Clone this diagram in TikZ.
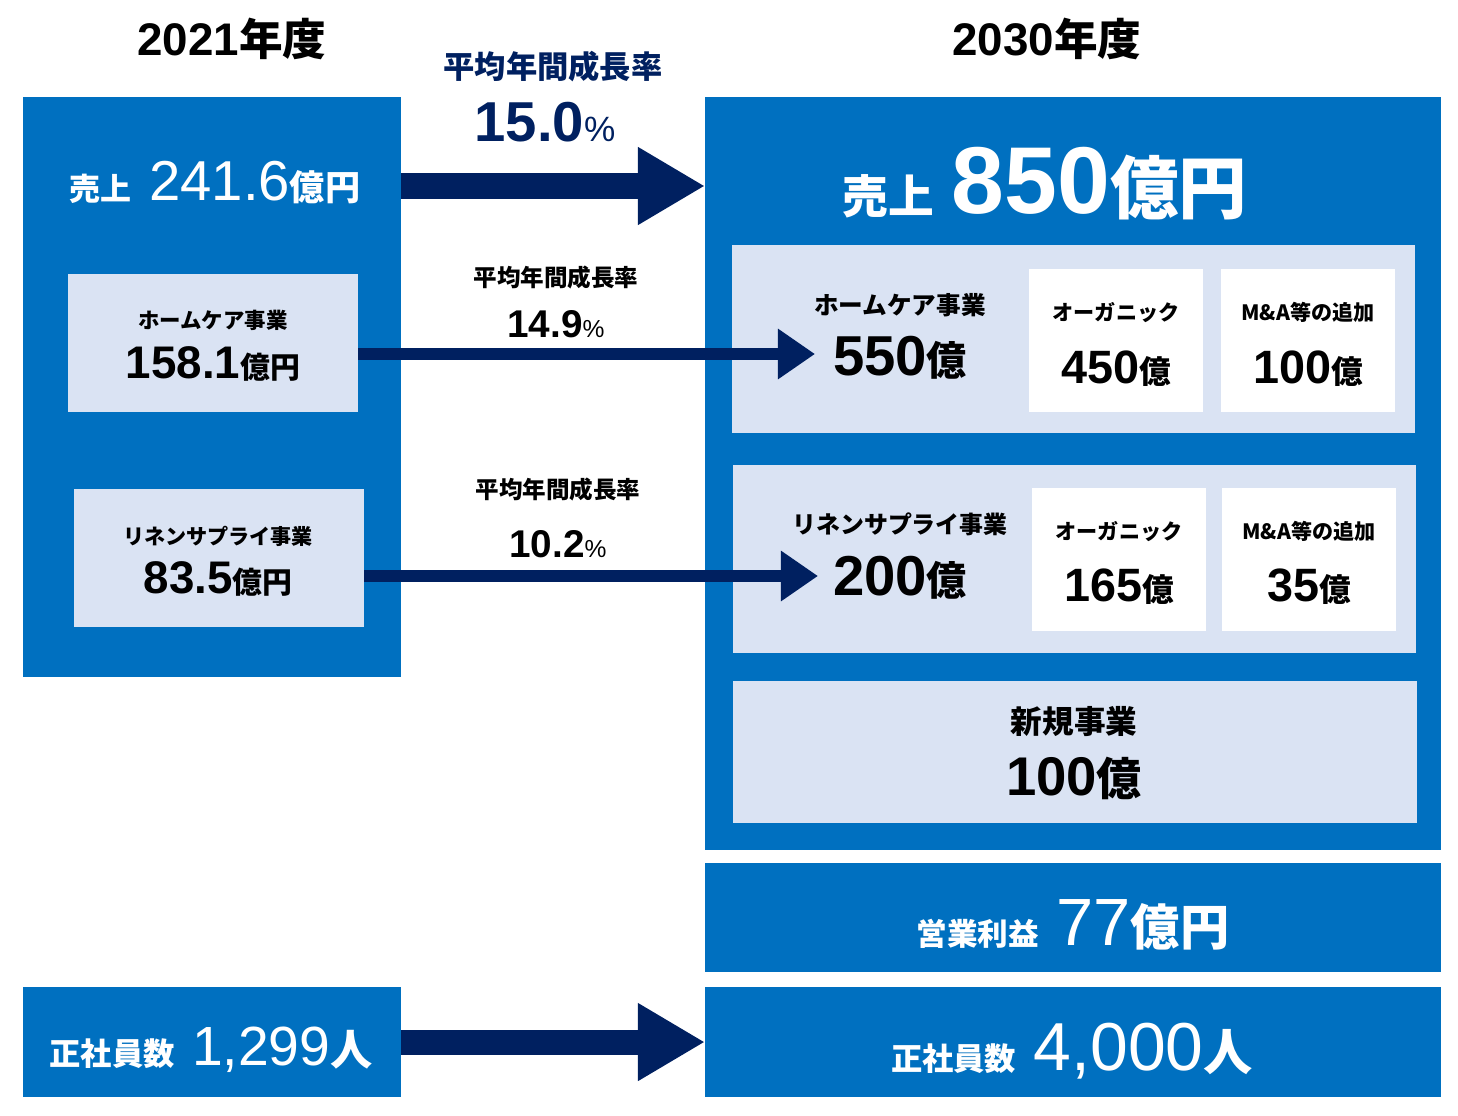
\documentclass[tikz,border=0pt]{standalone}
\usepackage{fontspec}
\setmainfont{Noto Sans CJK JP}
\newfontfamily\numf{Liberation Sans}
\usetikzlibrary{arrows.meta}
\definecolor{mainblue}{HTML}{0070C0}
\definecolor{paleblue}{HTML}{DAE3F3}
\definecolor{navy}{HTML}{002060}
\newcommand{\jtxt}[2]{{\fontsize{#1}{#1}\selectfont\bfseries #2}}
\newcommand{\ntxt}[2]{{\fontsize{#1}{#1}\selectfont\numf #2}}
\newcommand{\nbtxt}[2]{{\fontsize{#1}{#1}\selectfont\numf\bfseries #2}}
\begin{document}
\begin{tikzpicture}[x=0.01cm,y=-0.01cm,
    bluebox/.style={fill=mainblue,inner sep=0pt,outer sep=0pt,anchor=north west},
    palebox/.style={fill=paleblue,inner sep=0pt,outer sep=0pt,anchor=north west},
    whitebox/.style={fill=white,inner sep=0pt,outer sep=0pt,anchor=north west},
    txt/.style={inner sep=0pt,anchor=base},
    fatarrow/.style={draw=navy,line width=0.25cm,-{Triangle[length=0.67cm,width=0.73cm]}},
    slimarrow/.style={draw=navy,line width=0.12cm,-{Triangle[length=0.37cm,width=0.48cm]}}]
\useasboundingbox (0,0) rectangle (1458,1115);

% years
\node[txt] (t21) at (232,55) {\nbtxt{13}{2021}\jtxt{12.4}{年度}};
\node[txt] (t30) at (1047,55) {\nbtxt{13}{2030}\jtxt{12.4}{年度}};

% 2021 side
\node[bluebox,minimum width=3.78cm,minimum height=5.80cm] (y21) at (23,97) {};
\node[palebox,minimum width=2.90cm,minimum height=1.38cm] (hc21) at (68,274) {};
\node[palebox,minimum width=2.90cm,minimum height=1.38cm] (ls21) at (74,489) {};
\node[bluebox,minimum width=3.78cm,minimum height=1.10cm] (em21) at (23,987) {};

\node[txt,text=white] (s21) at (215,200) {\jtxt{8.8}{売上}\hspace{5pt}\ntxt{16}{241.6}\jtxt{10}{億円}};
\node[txt] (hc21a) at (213,328) {\jtxt{6.1}{ホームケア事業}};
\node[txt] (hc21b) at (213,378) {\nbtxt{13}{158.1}\jtxt{8.5}{億円}};
\node[txt] (ls21a) at (218,544) {\jtxt{6}{リネンサプライ事業}};
\node[txt] (ls21b) at (218,593) {\nbtxt{13}{83.5}\jtxt{8.5}{億円}};
\node[txt,text=white] (e21) at (211,1065) {\jtxt{8.9}{正社員数}\hspace{5pt}\ntxt{15.7}{1,299}\jtxt{12}{人}};

% 2030 side
\node[bluebox,minimum width=7.36cm,minimum height=7.53cm] (y30) at (705,97) {};
\node[palebox,minimum width=6.83cm,minimum height=1.88cm] (hc30) at (732,245) {};
\node[whitebox,minimum width=1.74cm,minimum height=1.43cm] (hco) at (1029,269) {};
\node[whitebox,minimum width=1.74cm,minimum height=1.43cm] (hcm) at (1221,269) {};
\node[palebox,minimum width=6.83cm,minimum height=1.88cm] (ls30) at (733,465) {};
\node[whitebox,minimum width=1.74cm,minimum height=1.43cm] (lso) at (1032,488) {};
\node[whitebox,minimum width=1.74cm,minimum height=1.43cm] (lsm) at (1222,488) {};
\node[palebox,minimum width=6.84cm,minimum height=1.42cm] (nb30) at (733,681) {};
\node[bluebox,minimum width=7.36cm,minimum height=1.09cm] (op30) at (705,863) {};
\node[bluebox,minimum width=7.36cm,minimum height=1.10cm] (em30) at (705,987) {};

\node[txt,text=white] (s30) at (1045,213) {\jtxt{13}{売上}\hspace{5pt}\nbtxt{27}{850}\jtxt{19.5}{億円}};
\node[txt] (hc30a) at (900,314) {\jtxt{7}{ホームケア事業}};
\node[txt] (hc30b) at (900,375) {\nbtxt{16}{550}\jtxt{11.4}{億}};
\node[txt] (hcoa) at (1116,320) {\jtxt{6}{オーガニック}};
\node[txt] (hcob) at (1116,383) {\nbtxt{13.3}{450}\jtxt{9}{億}};
\node[txt] (hcma) at (1308,320) {\jtxt{6}{M\&A等の追加}};
\node[txt] (hcmb) at (1308,383) {\nbtxt{13.3}{100}\jtxt{9}{億}};
\node[txt] (ls30a) at (900,533) {\jtxt{6.8}{リネンサプライ事業}};
\node[txt] (ls30b) at (900,595) {\nbtxt{16}{200}\jtxt{11.4}{億}};
\node[txt] (lsoa) at (1119,539) {\jtxt{6}{オーガニック}};
\node[txt] (lsob) at (1119,601) {\nbtxt{13.3}{165}\jtxt{9}{億}};
\node[txt] (lsma) at (1309,539) {\jtxt{6}{M\&A等の追加}};
\node[txt] (lsmb) at (1309,601) {\nbtxt{13.3}{35}\jtxt{9}{億}};
\node[txt] (nba) at (1074,733) {\jtxt{9}{新規事業}};
\node[txt] (nbb) at (1074,795) {\nbtxt{15.5}{100}\jtxt{12.8}{億}};
\node[txt,text=white] (op) at (1073,945) {\jtxt{8.7}{営業利益}\hspace{5pt}\ntxt{19}{77}\jtxt{14}{億円}};
\node[txt,text=white] (e30) at (1072,1070) {\jtxt{8.9}{正社員数}\hspace{5pt}\ntxt{19.3}{4,000}\jtxt{14}{人}};

% growth rates
\node[txt,text=navy] (g1a) at (553,78) {\jtxt{8.9}{平均年間成長率}};
\node[txt,text=navy] (g1b) at (545,141) {\nbtxt{16}{15.0}\ntxt{10}{\%}};
\node[txt] (g2a) at (556,286) {\jtxt{6.7}{平均年間成長率}};
\node[txt] (g2b) at (556,337) {\nbtxt{11}{14.9}\ntxt{7}{\%}};
\node[txt] (g3a) at (558,498) {\jtxt{6.7}{平均年間成長率}};
\node[txt] (g3b) at (558,557) {\nbtxt{11}{10.2}\ntxt{7}{\%}};

% arrows
\coordinate (salesrow) at (0,186);
\coordinate (hctip) at (815,354);
\coordinate (lstip) at (818,576);
\draw[fatarrow] (y21.east |- salesrow) -- (y30.west |- salesrow);
\draw[slimarrow] (hc21.east |- hctip) -- (hctip);
\draw[slimarrow] (ls21.east |- lstip) -- (lstip);
\draw[fatarrow] (em21.east) -- (em30.west);
\end{tikzpicture}
\end{document}
